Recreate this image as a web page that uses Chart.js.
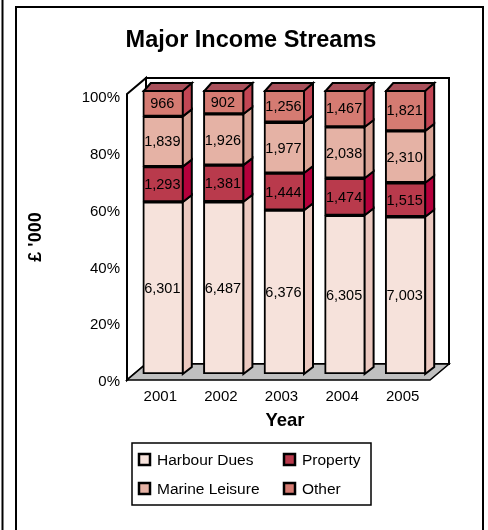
<!DOCTYPE html>
<html>
<head>
<meta charset="utf-8">
<script src="https://cdn.jsdelivr.net/npm/chart.js@4"></script>
<style>
html, body { margin: 0; padding: 0; background: #fff; }
canvas { display: block; }
</style>
</head>
<body>
<canvas id="incomeChart" width="488" height="530"></canvas>
<script>
// Income in £'000
const years = ['2001', '2002', '2003', '2004', '2005'];
const harbourDues = [6301, 6487, 6376, 6305, 7003];
const property = [1293, 1381, 1444, 1474, 1515];
const marineLeisure = [1839, 1926, 1977, 2038, 2310];
const other = [966, 902, 1256, 1467, 1821];
const seriesNames = ['Harbour Dues', 'Property', 'Marine Leisure', 'Other'];
const percentTicks = [0, 20, 40, 60, 80, 100];

const FONT = '"Liberation Sans", Arial, sans-serif';
const frontColors = ['#f6e2db', '#b93a4c', '#e5b2a5', '#d57b72'];
const sideColors = ['#ecc9c0', '#b5003c', '#d9a294', '#c24654'];
const topColor = '#a9505a';

const SHIFT = { x: 6, y: -6 };       // bars sit a bit behind the front plane
const BAR_DEPTH = { x: 8, y: -7 };
const WALL_DEPTH = { x: 19, y: -16 };

const allSeries = [harbourDues, property, marineLeisure, other];
const totals = years.map((y, i) => allSeries.reduce((s, arr) => s + arr[i], 0));

function toPercent(arr) {
    return arr.map((v, i) => v / totals[i] * 100);
}

function poly(ctx, pts, fill, lw) {
    ctx.beginPath();
    ctx.moveTo(pts[0][0], pts[0][1]);
    for (let i = 1; i < pts.length; i++) ctx.lineTo(pts[i][0], pts[i][1]);
    ctx.closePath();
    ctx.fillStyle = fill;
    ctx.fill();
    ctx.lineWidth = lw || 2;
    ctx.stroke();
}

const threeD = {
    id: 'threeD',
    beforeDatasetsDraw(chart) {
        const ctx = chart.ctx;
        const xs = chart.scales.x, ys = chart.scales.y;
        const left = xs.left, right = xs.right;
        const bottom = ys.getPixelForValue(0);
        const top = ys.getPixelForValue(100) - 2;
        const dx = WALL_DEPTH.x, dy = WALL_DEPTH.y;
        ctx.save();
        ctx.strokeStyle = '#000';
        ctx.lineJoin = 'miter';
        // back wall, left wall, floor
        poly(ctx, [[left + dx, top + dy], [right + dx, top + dy], [right + dx, bottom + dy], [left + dx, bottom + dy]], '#fff');
        poly(ctx, [[left, top], [left + dx, top + dy], [left + dx, bottom + dy], [left, bottom]], '#fff');
        poly(ctx, [[left, bottom], [right, bottom], [right + dx, bottom + dy], [left + dx, bottom + dy]], '#c0c0c0', 1.5);
        ctx.restore();
        ctx.save();
        ctx.translate(SHIFT.x, SHIFT.y);
    },
    afterDatasetsDraw(chart) {
        const ctx = chart.ctx;
        const d = BAR_DEPTH;
        const last = chart.data.datasets.length - 1;
        ctx.strokeStyle = '#000';
        ctx.lineJoin = 'miter';
        chart.data.datasets.forEach((ds, i) => {
            chart.getDatasetMeta(i).data.forEach((bar) => {
                const p = bar.getProps(['x', 'y', 'base', 'width'], true);
                const l = p.x - p.width / 2, r = p.x + p.width / 2;
                poly(ctx, [[r - 1, p.y], [r + d.x, p.y + d.y], [r + d.x, p.base + d.y], [r - 1, p.base]], sideColors[i]);
                if (i === last) {
                    poly(ctx, [[l + 1, p.y + 1], [l + d.x, p.y + d.y], [r + d.x, p.y + d.y], [r - 1, p.y + 1]], topColor);
                }
            });
        });
        // value labels
        ctx.fillStyle = '#000';
        ctx.font = '14.5px ' + FONT;
        ctx.textAlign = 'center';
        ctx.textBaseline = 'middle';
        chart.data.datasets.forEach((ds, i) => {
            chart.getDatasetMeta(i).data.forEach((bar, j) => {
                const p = bar.getProps(['x', 'y', 'base'], true);
                ctx.fillText(allSeries[i][j].toLocaleString('en-US'), p.x - 1, (p.y + p.base) / 2 + 1);
            });
        });
        ctx.restore();
    },
    afterDraw(chart) {
        const ctx = chart.ctx;
        ctx.save();
        ctx.fillStyle = '#000';
        ctx.strokeStyle = '#000';
        // frame
        ctx.lineWidth = 2;
        ctx.strokeRect(16, 7, 467, 560);
        ctx.beginPath();
        ctx.moveTo(2.5, 0);
        ctx.lineTo(2.5, 530);
        ctx.stroke();
        // titles
        ctx.textAlign = 'center';
        ctx.textBaseline = 'middle';
        ctx.font = 'bold 23.5px ' + FONT;
        ctx.fillText('Major Income Streams', 251, 41);
        ctx.font = 'bold 18.5px ' + FONT;
        ctx.fillText('Year', 285, 421);
        ctx.save();
        ctx.translate(36, 237);
        ctx.rotate(-Math.PI / 2);
        ctx.font = 'bold 18px ' + FONT;
        ctx.fillText("£ '000", 0, 0);
        ctx.restore();
        // legend
        ctx.lineWidth = 1.5;
        ctx.strokeRect(132, 443, 239, 62);
        const spots = [[139, 460], [284, 460], [139, 489], [284, 489]];
        ctx.font = '15.5px ' + FONT;
        ctx.textAlign = 'left';
        seriesNames.forEach((name, i) => {
            const [sx, sy] = spots[i];
            ctx.fillStyle = frontColors[i];
            ctx.fillRect(sx, sy - 6, 11, 11);
            ctx.lineWidth = 2.5;
            ctx.strokeRect(sx, sy - 6, 11, 11);
            ctx.fillStyle = '#000';
            ctx.fillText(name, sx + 18, sy + 1);
        });
        ctx.restore();
    }
};

const ctx = document.getElementById('incomeChart').getContext('2d');
const chart = new Chart(ctx, {
    type: 'bar',
    data: {
        labels: years,
        datasets: allSeries.map((arr, i) => ({
            label: seriesNames[i],
            data: toPercent(arr),
            backgroundColor: frontColors[i],
            borderColor: '#000',
            borderWidth: 2,
            borderSkipped: false,
            barThickness: 41
        }))
    },
    options: {
        responsive: false,
        animation: false,
        devicePixelRatio: 1,
        layout: { padding: { left: 20, right: 58, top: 96, bottom: 120 } },
        plugins: {
            legend: { display: false },
            title: { display: false },
            tooltip: { enabled: false }
        },
        scales: {
            x: {
                stacked: true,
                grid: { display: false, drawTicks: false },
                border: { display: false },
                ticks: { color: '#000', font: { size: 15, family: FONT }, padding: 8, labelOffset: 3 },
                afterFit(scale) { scale.height = 30; }
            },
            y: {
                stacked: true,
                min: 0,
                max: 100,
                grid: { display: false, drawTicks: false },
                border: { display: false },
                afterBuildTicks(scale) { scale.ticks = percentTicks.map(v => ({ value: v })); },
                ticks: {
                    color: '#000',
                    font: { size: 15, family: FONT },
                    padding: 7,
                    labelOffset: 2,
                    callback: v => v + '%'
                },
                afterFit(scale) { scale.width = 107; }
            }
        }
    },
    plugins: [threeD]
});
</script>
</body>
</html>
